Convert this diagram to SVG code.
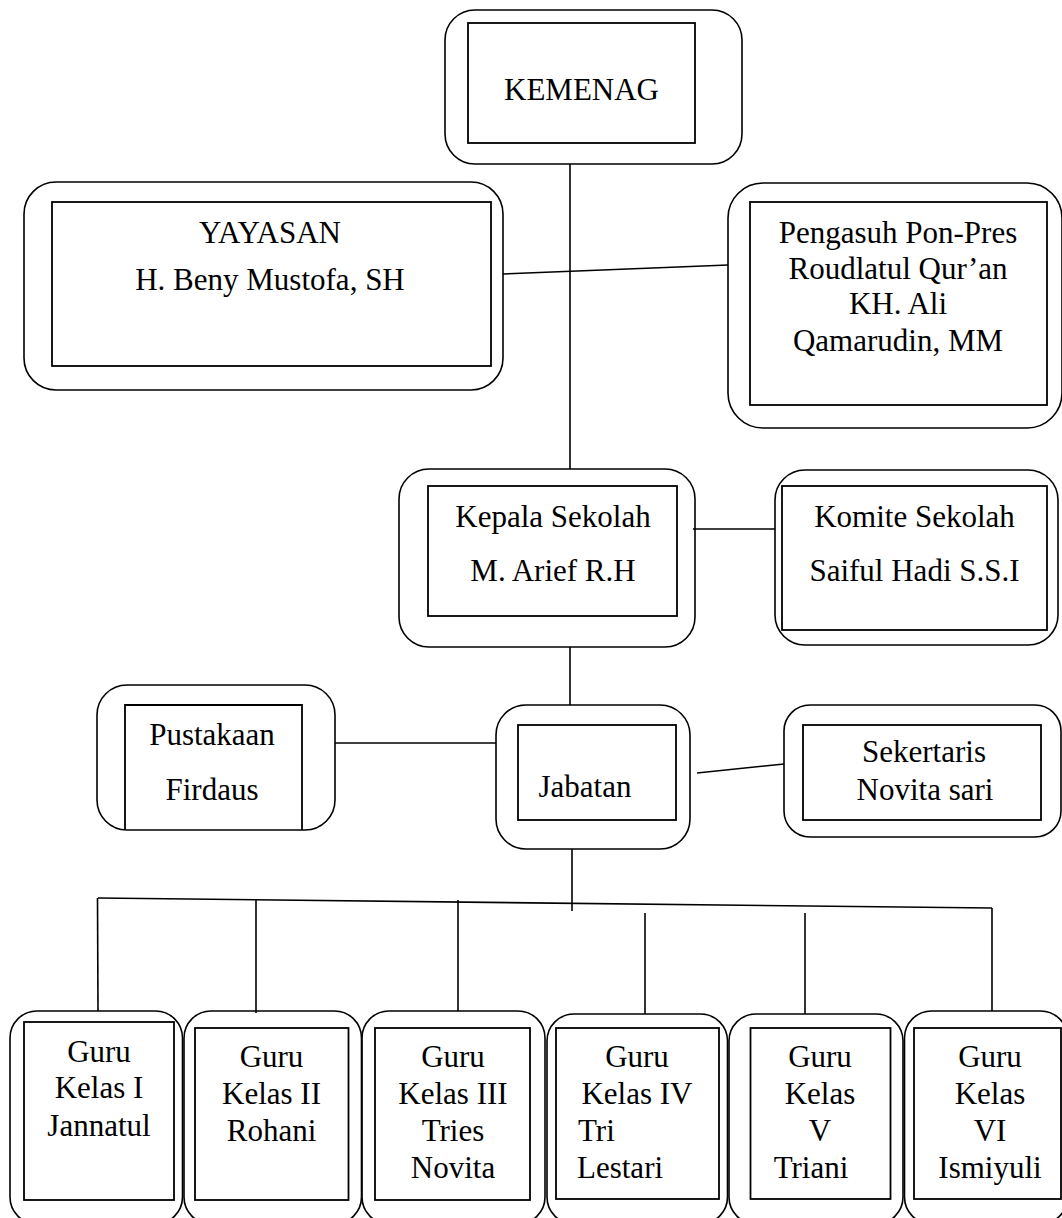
<svg xmlns="http://www.w3.org/2000/svg" width="1062" height="1218" viewBox="0 0 1062 1218">
<style>
.o{fill:none;stroke:#000;stroke-width:1.6}
.i{fill:none;stroke:#000;stroke-width:1.8}
.l{fill:none;stroke:#000;stroke-width:1.6}
text{font-family:"Liberation Serif","Times New Roman",serif;font-size:31px;fill:#000;text-anchor:middle}
.s{text-anchor:start}
</style>
<rect width="1062" height="1218" fill="#fff"/>
<g id="connectors">
<line class="l" x1="570" y1="164" x2="570" y2="469"/>
<line class="l" x1="503" y1="274" x2="728" y2="265"/>
<line class="l" x1="693" y1="529" x2="775" y2="529"/>
<line class="l" x1="570" y1="647" x2="570" y2="705"/>
<line class="l" x1="335" y1="743" x2="496" y2="743"/>
<line class="l" x1="697" y1="773" x2="784" y2="764"/>
<line class="l" x1="572" y1="849" x2="572" y2="911"/>
<line class="l" x1="98" y1="898" x2="992" y2="908"/>
<line class="l" x1="97.5" y1="898" x2="98" y2="1011"/>
<line class="l" x1="256" y1="899" x2="256" y2="1013"/>
<line class="l" x1="458" y1="900" x2="458" y2="1011"/>
<line class="l" x1="645" y1="913" x2="645" y2="1014"/>
<line class="l" x1="805" y1="913" x2="805" y2="1014"/>
<line class="l" x1="992" y1="908" x2="992" y2="1011"/>
</g>
<g id="kemenag">
<rect class="o" x="445" y="10" width="297" height="154" rx="30"/>
<rect class="i" x="468" y="23" width="227" height="120"/>
<text x="581.5" y="100">KEMENAG</text>
</g>
<g id="yayasan">
<rect class="o" x="24" y="182" width="479" height="208" rx="32"/>
<rect class="i" x="52" y="202" width="439" height="164"/>
<text x="270" y="243">YAYASAN</text>
<text x="270" y="290">H. Beny Mustofa, SH</text>
</g>
<g id="pengasuh">
<rect class="o" x="728" y="183" width="334" height="245" rx="35"/>
<rect class="i" x="750" y="202" width="297" height="203"/>
<text x="898" y="243">Pengasuh Pon-Pres</text>
<text x="898" y="278.5">Roudlatul Qur’an</text>
<text x="898" y="314">KH. Ali</text>
<text x="898" y="351">Qamarudin, MM</text>
</g>
<g id="kepala">
<rect class="o" x="399" y="469" width="296" height="178" rx="30"/>
<rect class="i" x="428" y="486" width="249" height="130"/>
<text x="553" y="527">Kepala Sekolah</text>
<text x="553" y="581">M. Arief R.H</text>
</g>
<g id="komite">
<rect class="o" x="775" y="470" width="283" height="175" rx="30"/>
<rect class="i" x="782" y="486" width="265" height="144"/>
<text x="914.5" y="527">Komite Sekolah</text>
<text x="914.5" y="581">Saiful Hadi S.S.I</text>
</g>
<g id="pustakaan">
<rect class="o" x="97" y="685" width="238" height="145" rx="30"/>
<path class="i" d="M125,830 V705 H302 V830"/>
<text x="212" y="745">Pustakaan</text>
<text x="212" y="800">Firdaus</text>
</g>
<g id="jabatan">
<rect class="o" x="496" y="705" width="194" height="144" rx="30"/>
<rect class="i" x="518" y="725" width="158" height="95"/>
<text x="585" y="797">Jabatan</text>
</g>
<g id="sekertaris">
<rect class="o" x="784" y="705" width="277" height="132" rx="26"/>
<rect class="i" x="803" y="725" width="238" height="95"/>
<text x="924" y="762">Sekertaris</text>
<text x="925" y="800">Novita sari</text>
</g>
<g id="guru1">
<rect class="o" x="10" y="1011" width="172.5" height="213" rx="27"/>
<rect class="i" x="24" y="1022" width="150" height="178"/>
<text x="99" y="1062">Guru</text>
<text x="99" y="1098">Kelas I</text>
<text x="99" y="1136">Jannatul</text>
</g>
<g id="guru2">
<rect class="o" x="184" y="1011" width="177.5" height="213" rx="27"/>
<rect class="i" x="195" y="1028" width="153.5" height="172"/>
<text x="271.5" y="1067">Guru</text>
<text x="271.5" y="1104">Kelas II</text>
<text x="271.5" y="1141">Rohani</text>
</g>
<g id="guru3">
<rect class="o" x="362" y="1011" width="183" height="213" rx="27"/>
<rect class="i" x="375" y="1028" width="155" height="172"/>
<text x="453" y="1067">Guru</text>
<text x="453" y="1104">Kelas III</text>
<text x="453" y="1141">Tries</text>
<text x="453" y="1178">Novita</text>
</g>
<g id="guru4">
<rect class="o" x="547" y="1014" width="180.5" height="210" rx="27"/>
<rect class="i" x="556" y="1028" width="163" height="171"/>
<text x="637" y="1067">Guru</text>
<text x="637" y="1104">Kelas IV</text>
<text class="s" x="578" y="1141">Tri</text>
<text class="s" x="577" y="1178">Lestari</text>
</g>
<g id="guru5">
<rect class="o" x="729" y="1014" width="174" height="210" rx="27"/>
<rect class="i" x="750.5" y="1028" width="140" height="171"/>
<text x="820" y="1067">Guru</text>
<text x="820" y="1104">Kelas</text>
<text x="820" y="1141">V</text>
<text x="811" y="1178">Triani</text>
</g>
<g id="guru6">
<rect class="o" x="904.5" y="1011" width="163" height="213" rx="27"/>
<rect class="i" x="914" y="1028" width="147" height="171"/>
<text x="990" y="1067">Guru</text>
<text x="990" y="1104">Kelas</text>
<text x="990" y="1141">VI</text>
<text x="990" y="1178">Ismiyuli</text>
</g>
</svg>
